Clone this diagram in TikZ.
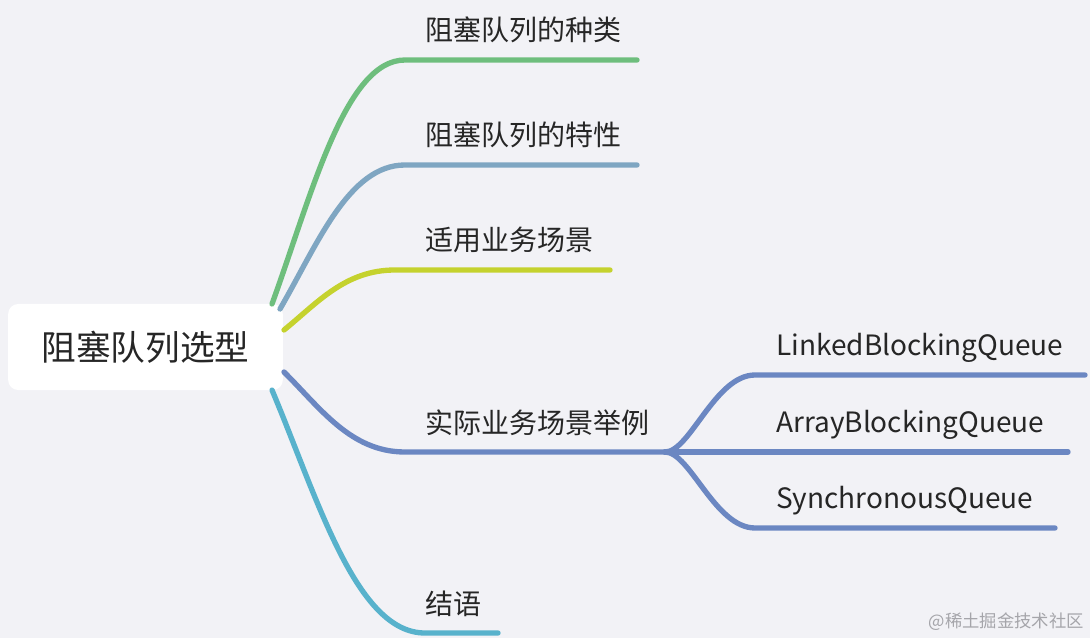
\documentclass[tikz,border=0pt]{standalone}
\usepackage{fontspec}
\setmainfont{Noto Sans CJK SC}
\usetikzlibrary{calc, positioning}

\definecolor{bgcol}{RGB}{242,242,246}
\definecolor{txtcol}{RGB}{38,38,38}
\definecolor{markcol}{RGB}{165,165,170}
\definecolor{kindcol}{RGB}{110,190,125}
\definecolor{featcol}{RGB}{127,166,194}
\definecolor{usecol}{RGB}{197,210,46}
\definecolor{casecol}{RGB}{107,135,194}
\definecolor{endcol}{RGB}{88,178,204}

\begin{document}
\begin{tikzpicture}[
    x=0.75pt, y=-0.75pt, % one unit = one pixel, y downwards
    branch/.style={line width=4pt, line cap=round}, % curved branch lines
    topic/.style={anchor=base west, inner sep=0pt, text=txtcol,
      font=\fontsize{21}{21}\selectfont}, % labels above the lines
    rootbox/.style={fill=white, rounded corners=7.5pt, text=txtcol,
      minimum width=206pt, minimum height=64.5pt,
      font=\fontsize{26}{26}\selectfont},
  ]

  % Hintergrund
  \fill[bgcol] (0,0) rectangle (1090,638);
  \useasboundingbox (0,0) rectangle (1090,638);

  % Wurzel
  \node[rootbox] (root) at (145.5,347) {阻塞队列选型};

  % Hauptzweige
  \foreach \sx/\sy/\bx/\ey/\ex/\col/\nm/\txt in {
      272/304/405/60/637/kindcol/kind/阻塞队列的种类,
      280/309/405/165/637/featcol/feat/阻塞队列的特性,
      284/330/395/270/610/usecol/use/适用业务场景,
      284/372/405/452/665/casecol/case/实际业务场景举例,
      272/390/425/633/498/endcol/fin/结语}
  {
    \pgfmathsetmacro\cax{\sx+0.3*(\bx-\sx)}
    \pgfmathsetmacro\cay{\sy+0.45*(\ey-\sy)}
    \pgfmathsetmacro\cbx{\sx+0.55*(\bx-\sx)}
    \coordinate (\nm-s) at (\sx,\sy);
    \coordinate (\nm-e) at (\ex,\ey);
    \draw[branch, \col] (\nm-s) .. controls (\cax,\cay) and (\cbx,\ey) .. (\bx,\ey) -- (\nm-e);
    \node[topic] (\nm) at (425,\ey-19) {\txt};
  }

  % Unterzweige
  \foreach \ey/\ex/\nm/\txt in {
      375/1085/linked/LinkedBlockingQueue,
      452/1068/array/ArrayBlockingQueue,
      528/1055/sync/SynchronousQueue}
  {
    \coordinate (\nm-e) at (\ex,\ey);
    \draw[branch, casecol] (case-e) .. controls (690,452) and (715,\ey) .. (755,\ey) -- (\nm-e);
    \node[topic] (\nm) at (776,\ey-20) {\txt};
  }

  % Wasserzeichen
  \node[anchor=east, inner sep=0pt, text=markcol, font=\fontsize{13}{13}\selectfont]
    (mark) at (1084,622) {@稀土掘金技术社区};

\end{tikzpicture}
\end{document}
